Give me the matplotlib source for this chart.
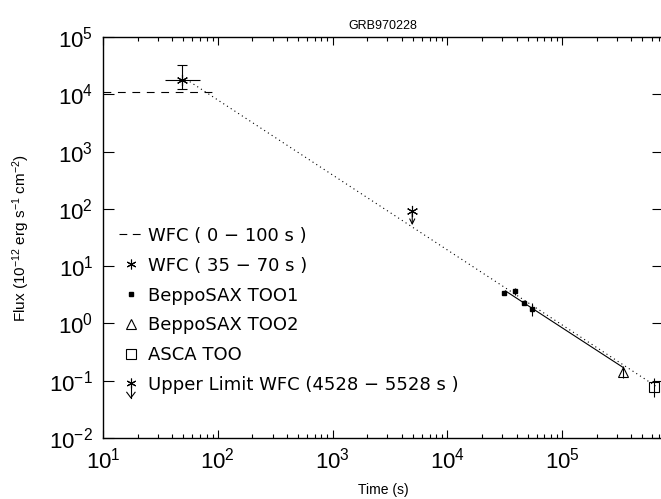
import matplotlib
matplotlib.use('Agg')
import matplotlib.pyplot as plt
import numpy as np
from matplotlib.lines import Line2D
from matplotlib.legend_handler import HandlerBase
from matplotlib.ticker import FixedLocator, LogLocator, FuncFormatter, NullLocator

plt.rcParams['font.family'] = ['Liberation Sans', 'DejaVu Sans']
plt.rcParams['mathtext.default'] = 'regular'

# WFC mean flux, 0-100 s
wfc_avg_t = [10, 100]
wfc_avg_f = [1.1e4, 1.1e4]

# WFC 35-70 s
wfc_t = [49]
wfc_t_lo = [35]
wfc_t_hi = [70]
wfc_f = [1.8e4]
wfc_f_lo = [1.22e4]
wfc_f_hi = [3.2e4]

# BeppoSAX TOO1
too1_t = [3.11e4, 3.85e4, 4.65e4, 5.5e4]
too1_f = [3.45, 3.74, 2.31, 1.77]
too1_lo = [3.3, 3.1, 2.2, 1.37]
too1_hi = [3.6, 4.2, 2.45, 2.28]

# BeppoSAX TOO2
too2_t = [3.37e5]
too2_f = [0.144]
too2_lo = [0.112]
too2_hi = [0.18]

# ASCA TOO
asca_t = [6.3e5]
asca_f = [0.079]
asca_lo = [0.053]
asca_hi = [0.112]

# WFC upper limit 4528-5528 s
ul_t = [4.94e3]
ul_f = [92]
ul_arrow_to = [52]

# power-law decay lines
fit_t = [57, 6.5e5]
fit_f = [1.66e4, 0.081]
fit2_t = [3.2e4, 3.37e5]
fit2_f = [3.7, 0.172]

# axis ticks
x_ticks = [1e1, 1e2, 1e3, 1e4, 1e5]
y_ticks = [1e-2, 1e-1, 1e0, 1e1, 1e2, 1e3, 1e4, 1e5]

star = (6, 2, 0)
lw = 0.8


def yerr(f, lo, hi):
    f = np.array(f)
    return [f - np.array(lo), np.array(hi) - f]


class UpperLimitHandler(HandlerBase):
    def create_artists(self, legend, orig_handle, xdescent, ydescent,
                       width, height, fontsize, trans):
        cx = width / 2 - xdescent
        cy = height / 2 - ydescent
        s = Line2D([cx], [cy + 1], marker=star, ms=7, mec='k', mew=lw,
                   ls='none', transform=trans)
        shaft = Line2D([cx, cx], [cy + 1, cy - 10], color='k', lw=lw, transform=trans)
        head = Line2D([cx - 3, cx, cx + 3], [cy - 6, cy - 10, cy - 6],
                      color='k', lw=lw, transform=trans)
        return [s, shaft, head]


fig = plt.figure(figsize=(6.61, 4.99), dpi=100)
ax = fig.add_axes([103 / 661, 61 / 499, 560 / 661, 401 / 499])
ax.set_xscale('log')
ax.set_yscale('log')

ax.plot(wfc_avg_t, wfc_avg_f, color='k', lw=lw, dashes=(7, 6))
ax.plot(fit_t, fit_f, color='k', lw=lw, ls=(0, (1, 3)))
ax.plot(fit2_t, fit2_f, color='k', lw=lw)

ax.errorbar(wfc_t, wfc_f,
            xerr=[np.array(wfc_t) - wfc_t_lo, np.array(wfc_t_hi) - wfc_t],
            fmt='none', ecolor='k', elinewidth=lw, capsize=0)
ax.errorbar(wfc_t, wfc_f, yerr=yerr(wfc_f, wfc_f_lo, wfc_f_hi),
            fmt='none', ecolor='k', elinewidth=lw, capsize=3.5, capthick=lw)
ax.plot(wfc_t, wfc_f, ls='none', marker=star, ms=8, mec='k', mew=lw)

ax.errorbar(too1_t, too1_f, yerr=yerr(too1_f, too1_lo, too1_hi),
            fmt='s', ms=2.5, color='k', elinewidth=lw, capsize=0)
ax.errorbar(too2_t, too2_f, yerr=yerr(too2_f, too2_lo, too2_hi),
            fmt='^', ms=7, mfc='none', mec='k', mew=lw, ecolor='k',
            elinewidth=lw, capsize=0)
ax.errorbar(asca_t, asca_f, yerr=yerr(asca_f, asca_lo, asca_hi),
            fmt='s', ms=7, mfc='none', mec='k', mew=lw, ecolor='k',
            elinewidth=lw, capsize=0)

ax.plot(ul_t, ul_f, ls='none', marker=star, ms=8, mec='k', mew=lw)
for t, f, f2 in zip(ul_t, ul_f, ul_arrow_to):
    ax.annotate('', xy=(t, f2), xytext=(t, f),
                arrowprops=dict(arrowstyle='->', lw=lw, color='k',
                                shrinkA=0, shrinkB=0, mutation_scale=9))

ax.set_xlim(10, 10 ** (1 + 560 / 114.8))
ax.set_ylim(1e-2, 1e5)

fmt = FuncFormatter(lambda v, p: r'$10^{%d}$' % round(np.log10(v)))
ax.xaxis.set_major_locator(FixedLocator(x_ticks))
ax.xaxis.set_minor_locator(LogLocator(base=10, subs=range(2, 10), numticks=20))
ax.xaxis.set_major_formatter(fmt)
ax.yaxis.set_major_locator(FixedLocator(y_ticks))
ax.yaxis.set_minor_locator(NullLocator())
ax.yaxis.set_major_formatter(fmt)
ax.tick_params(which='both', direction='in', top=True, right=True, width=lw,
               labelsize=16)
ax.tick_params(axis='y', which='major', length=8, pad=7)
ax.tick_params(axis='x', which='major', length=6, pad=7)
ax.tick_params(axis='x', which='minor', length=3)
for sp in ax.spines.values():
    sp.set_linewidth(1.0)

ax.set_title('GRB970228', fontsize=9, pad=6)
ax.set_xlabel('Time (s)', fontsize=10)
ax.xaxis.set_label_coords(0.5, -0.112)
ax.set_ylabel('Flux (10$^{-12}$ erg s$^{-1}$ cm$^{-2}$)', fontsize=11)
ax.yaxis.set_label_coords(-0.127, 0.5)

ul_proxy = Line2D([], [])
handles = [
    Line2D([], [], color='k', lw=lw, dashes=(7, 5)),
    Line2D([], [], ls='none', marker=star, ms=7, mec='k', mew=lw),
    Line2D([], [], ls='none', marker='s', ms=2.5, color='k'),
    Line2D([], [], ls='none', marker='^', ms=7, mfc='none', mec='k', mew=lw),
    Line2D([], [], ls='none', marker='s', ms=7, mfc='none', mec='k', mew=lw),
    ul_proxy,
]
labels = ['WFC ( 0 − 100 s )', 'WFC ( 35 − 70 s )', 'BeppoSAX TOO1',
          'BeppoSAX TOO2', 'ASCA TOO', 'Upper Limit WFC (4528 − 5528 s )']
ax.legend(handles, labels, loc='upper left', bbox_to_anchor=(0.016, 0.545),
          frameon=False, prop={'family': 'DejaVu Sans', 'size': 13},
          handlelength=1.3, handletextpad=0.3,
          labelspacing=0.66, borderaxespad=0,
          handler_map={ul_proxy: UpperLimitHandler()})

fig.savefig('out.png', dpi=100)
